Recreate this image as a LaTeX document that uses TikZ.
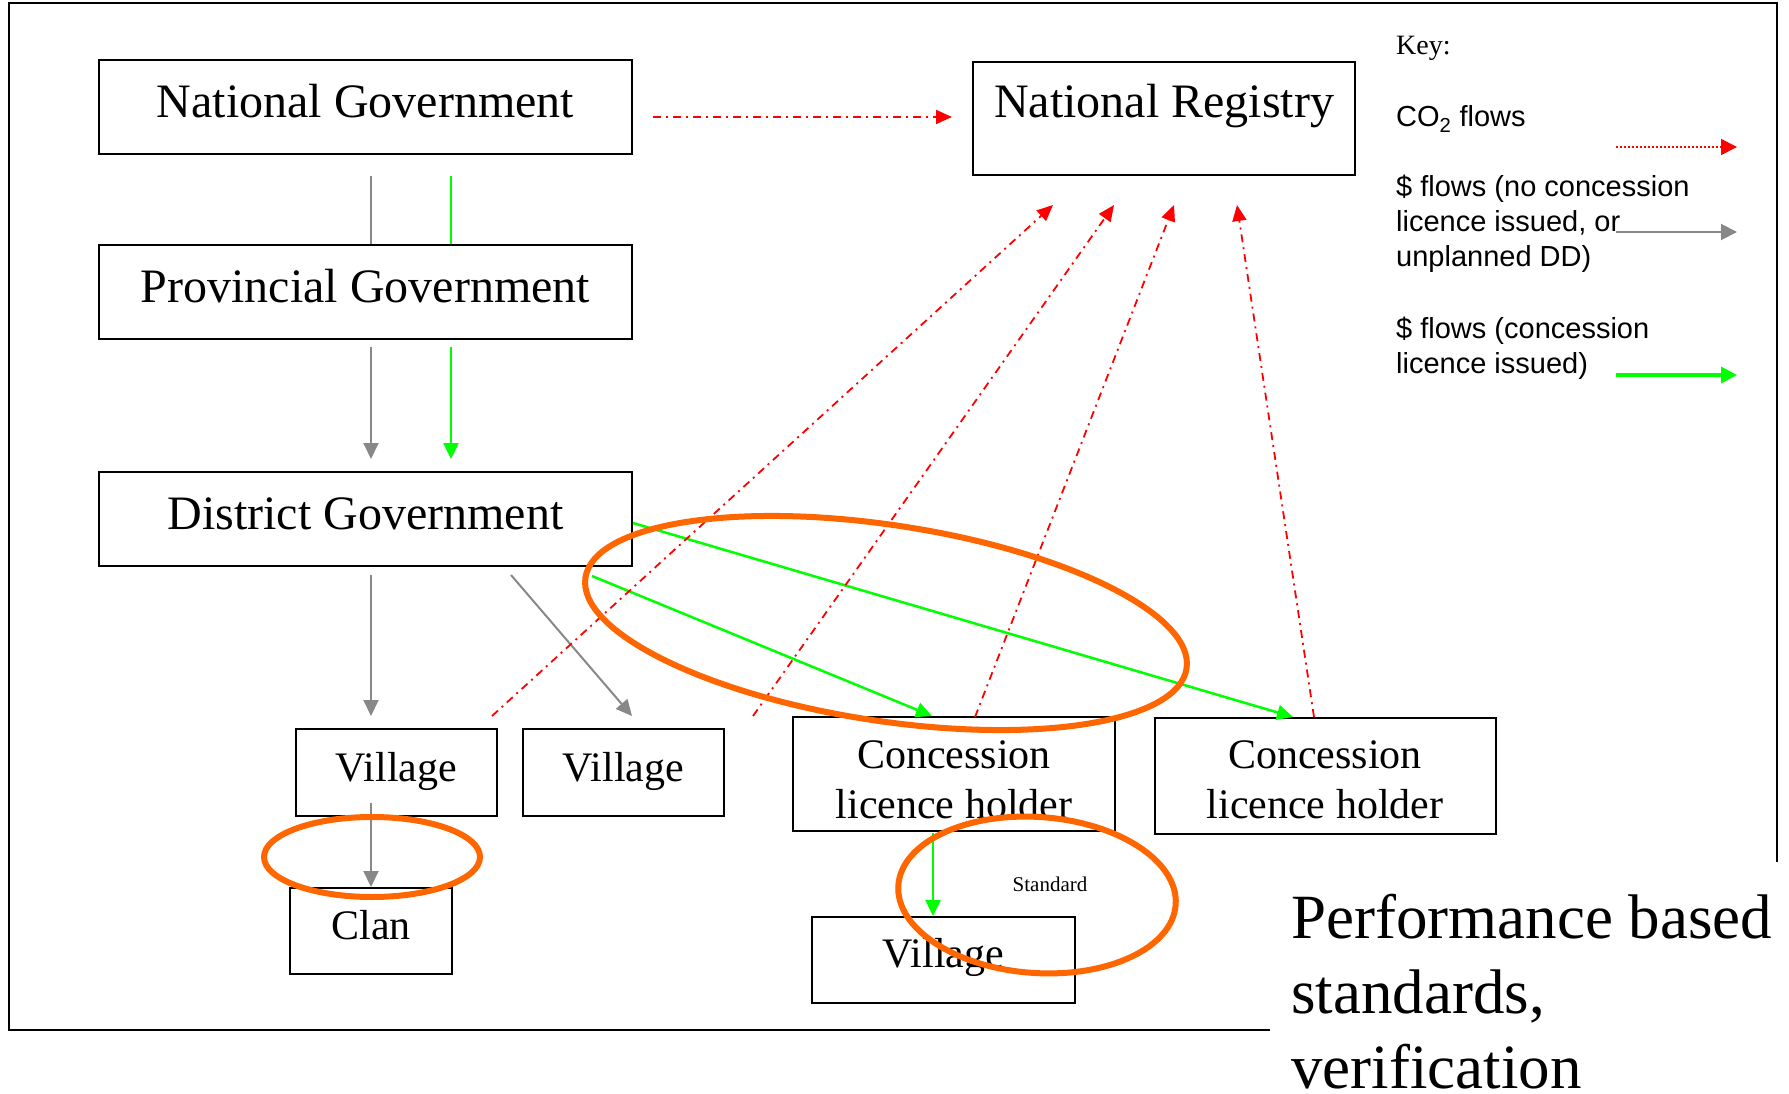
\documentclass[tikz,border=0pt]{standalone}
\usepackage{fontspec}
\setmainfont{Liberation Serif}
\newfontfamily\keyfont{Liberation Sans}
\usetikzlibrary{arrows.meta,calc}
\definecolor{flowgray}{RGB}{136,136,136}
\definecolor{flowgreen}{RGB}{0,255,0}
\definecolor{flowred}{RGB}{255,0,0}
\definecolor{ringorange}{RGB}{255,102,0}
\begin{document}
\begin{tikzpicture}[x=1pt,y=-1pt,
  box/.style={draw=black, line width=2pt, inner sep=0pt},
  bigbox/.style={box, font=\fontsize{48}{56}\selectfont, text height=33pt, text depth=12pt},
  smallbox/.style={box, font=\fontsize{42}{50}\selectfont, text height=29pt, text depth=12pt},
  twobox/.style={box, font=\fontsize{42}{50}\selectfont, text height=29pt, text depth=41pt},
  grayflow/.style={draw=flowgray, line width=2pt, -{Triangle[length=16pt,width=15pt]}},
  grayline/.style={draw=flowgray, line width=2pt},
  greenflow/.style={draw=flowgreen, line width=2.5pt, -{Triangle[length=16pt,width=15pt]}},
  greenline/.style={draw=flowgreen, line width=2pt},
  redflow/.style={draw=flowred, line width=1.8pt, dash pattern=on 8pt off 5pt on 2pt off 5pt, -{Triangle[length=16pt,width=14pt]}},
  ring/.style={draw=ringorange, line width=6pt},
  keytext/.style={anchor=base west, font=\keyfont\fontsize{29}{35}\selectfont, inner sep=0pt},
]
\useasboundingbox (0,0) rectangle (1789,1094);

% outer frame (its lower right corner is left open)
\draw[line width=2pt] (1270,1030) -- (9,1030) -- (9,3) -- (1777,3) -- (1777,862);

% boxes
\node[bigbox, minimum width=533pt, minimum height=94pt] (NG) at (365.5,107) {National Government};
\node[bigbox, minimum width=382pt, minimum height=113pt, text depth=35pt] (NR) at (1164,118.5) {National Registry};
\node[bigbox, minimum width=533pt, minimum height=94pt] (PG) at (365.5,292) {Provincial Government};
\node[bigbox, minimum width=533pt, minimum height=94pt] (DG) at (365.5,519) {District Government};
\node[smallbox, minimum width=201pt, minimum height=87pt] (V1) at (396.5,772.5) {Village};
\node[smallbox, minimum width=201pt, minimum height=87pt] (V2) at (623.5,772.5) {Village};
\node[twobox, minimum width=322pt, minimum height=114pt] (C1) at (954,774) {\begin{tabular}[t]{@{}c@{}}Concession\\licence holder\end{tabular}};
\node[twobox, minimum width=341pt, minimum height=116pt, text depth=45pt] (C2) at (1325,776) {\begin{tabular}[t]{@{}c@{}}Concession\\licence holder\end{tabular}};
\node[smallbox, minimum width=162pt, minimum height=86pt] (CL) at (371,931) {Clan};
\node[smallbox, minimum width=263pt, minimum height=86pt, text depth=14pt] (V3) at (943.5,960) {Village};

% $ flows, no concession (gray)
\draw[grayline] ($(NG.south)+(5.5,21)$) -- ($(PG.north)+(5.5,0)$);
\draw[grayflow] ($(PG.south)+(5.5,7)$) -- ($(DG.north)+(5.5,-12)$);
\draw[grayflow] ($(DG.south)+(5.5,8)$) -- ($(V1.north)+(-25.5,-12)$);
\draw[grayflow] ($(DG.south)+(145.5,8)$) -- ($(V2.north)+(8.5,-12)$);
\draw[grayflow] ($(V1.south)+(-25.5,-14)$) -- (CL.north);

% $ flows, concession (green)
\draw[greenline] ($(NG.south)+(85.5,21)$) -- ($(PG.north)+(85.5,0)$);
\draw[greenflow] ($(PG.south)+(85.5,7)$) -- ($(DG.north)+(85.5,-12)$);
\draw[greenflow] ($(DG.south)+(226.5,9)$) -- ($(C1.north)+(-22,0)$);
\draw[greenflow] ($(DG.east)+(0,4)$) -- ($(C2.north)+(-32,0)$);
\draw[greenflow] ($(C1.south)+(-21,1)$) -- ($(V3.north)+(-10.5,0)$);

% CO2 flows (red)
\draw[redflow] ($(NG.east)+(20,10)$) -- ($(NR.west)+(-20,-1.5)$);
\draw[redflow] ($(V1.north)+(95.5,-12)$) -- ($(NR.south)+(-111,29)$);
\draw[redflow] ($(V2.north)+(129.5,-12)$) -- ($(NR.south)+(-50,29)$);
\draw[redflow] ($(C1.north)+(21,1)$) -- ($(NR.south)+(10,29)$);
\draw[redflow] ($(C2.north)+(-11,0)$) -- ($(NR.south)+(73,29)$);

% key
\node[anchor=base west, inner sep=0pt, font=\fontsize{28}{34}\selectfont] (key) at (1396,55) {Key:};
\node[keytext] (kco) at (1396,127) {CO\textsubscript{2} flows};
\node[keytext] (kgray) at (1396,197) {\begin{tabular}[t]{@{}l@{}}\$ flows (no concession\\licence issued, or\\unplanned DD)\end{tabular}};
\node[keytext] (kgreen) at (1396,338) {\begin{tabular}[t]{@{}l@{}}\$ flows (concession\\licence issued)\end{tabular}};
\coordinate (kr1) at (1616,147);
\coordinate (kr2) at (1737,147);
\coordinate (kg1) at (1616,232);
\coordinate (kg2) at (1737,232);
\coordinate (kn1) at (1616,375);
\coordinate (kn2) at (1737,375);
\draw[draw=flowred, line width=1.8pt, dash pattern=on 2pt off 2pt, -{Triangle[length=16pt,width=16pt]}] (kr1) -- (kr2);
\draw[draw=flowgray, line width=2pt, -{Triangle[length=16pt,width=16pt]}] (kg1) -- (kg2);
\draw[draw=flowgreen, line width=3.5pt, -{Triangle[length=16pt,width=16pt]}] (kn1) -- (kn2);

% label and side text
\node[anchor=base, inner sep=0pt, font=\fontsize{21}{25}\selectfont] (std) at (1050,891) {Standard};
\node[anchor=base west, inner sep=0pt, text depth=0pt, font=\fontsize{63}{75}\selectfont] (perf) at (1291,938) {\begin{tabular}[t]{@{}l@{}}Performance based\\standards,\\verification\end{tabular}};

% orange rings
\draw[ring, rotate around={-8.6:(886,623)}] (886,623) ellipse [x radius=304pt, y radius=98pt];
\draw[ring] (372,857) ellipse [x radius=108pt, y radius=40pt];
\draw[ring, rotate around={-4:(1037,895)}] (1037,895) ellipse [x radius=139pt, y radius=78pt];
\end{tikzpicture}
\end{document}
